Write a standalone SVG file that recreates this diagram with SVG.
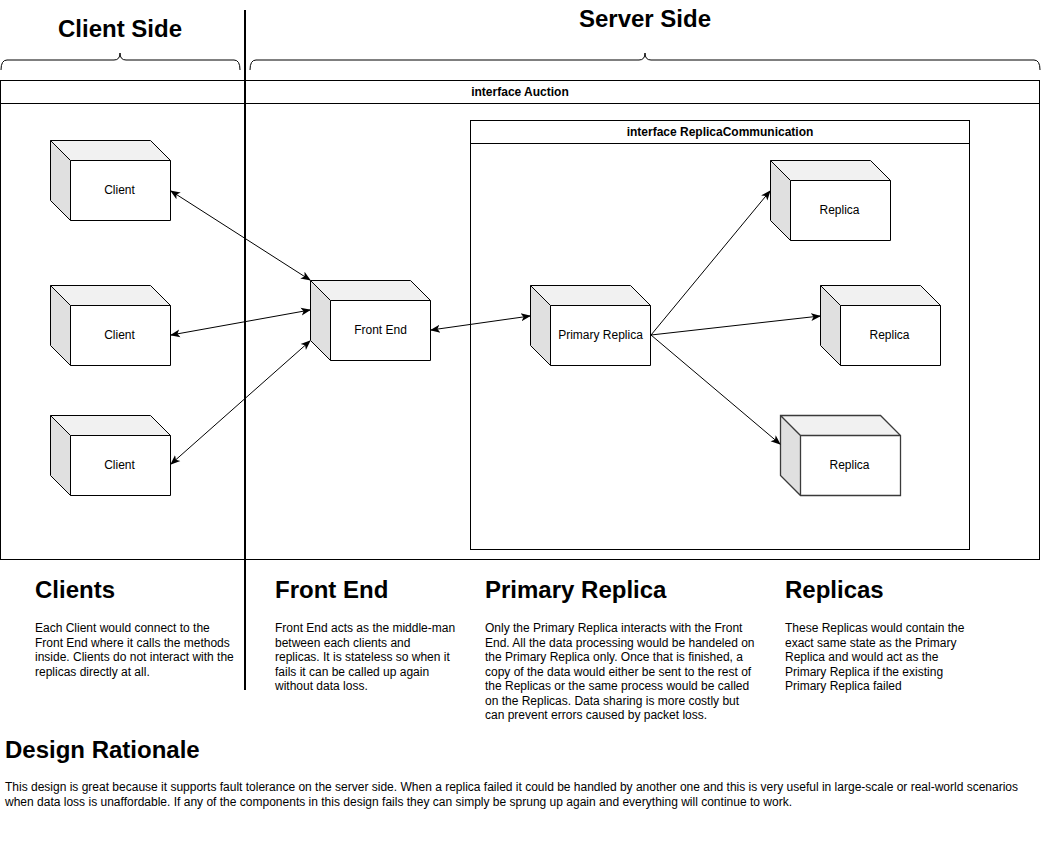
<svg xmlns="http://www.w3.org/2000/svg" width="1041" height="851" viewBox="0 0 1041 851">
<style>
text{font-family:"Liberation Sans",Arial,Helvetica,sans-serif;fill:#000}
.title{font-size:24px;font-weight:bold}
.hdr{font-size:12px;font-weight:bold}
.lbl{font-size:12px;text-anchor:middle}
.para{font-size:12px}
.frame{fill:none;stroke:#000;stroke-width:1}
.top{fill:#f1f1f1;stroke:none}
.side{fill:#e0e0e0;stroke:none}
.front{fill:#fff;stroke:none}
.edge{fill:none;stroke:#000;stroke-width:1;stroke-linejoin:miter}
.gray .edge{stroke:#3a3a3a;stroke-width:1.3}
.conn{fill:none;stroke:#000;stroke-width:1}
.brace{fill:none;stroke:#000;stroke-width:1}
</style>
<defs>
<marker id="arr" viewBox="0 0 10 10" refX="9" refY="5" markerWidth="10" markerHeight="10" markerUnits="userSpaceOnUse" orient="auto-start-reverse">
<path d="M0,1 L10,5 L0,9 L2.5,5 Z" fill="#000"/>
</marker>
</defs>
<rect width="1041" height="851" fill="#fff"/>

<g id="headings">
<text class="title" x="120" y="37" text-anchor="middle">Client Side</text>
<text class="title" x="645" y="27" text-anchor="middle">Server Side</text>
<path class="brace" d="M1,70 Q1,60 7,60 H114 Q120,60 120,53 Q120,60 126,60 H234 Q240,60 240,70"/>
<path class="brace" d="M250,70 Q250,60 256,60 H639 Q645,60 645,53 Q645,60 651,60 H1034 Q1040,60 1040,70"/>
</g>

<g id="auction">
<rect class="frame" x="0.5" y="80.5" width="1039" height="479"/>
<line class="frame" x1="0.5" y1="103.5" x2="1039.5" y2="103.5"/>
<text class="hdr" x="520" y="96" text-anchor="middle">interface Auction</text>
</g>

<g id="replica-communication">
<rect class="frame" x="470.5" y="120.5" width="499" height="429"/>
<line class="frame" x1="470.5" y1="143.5" x2="969.5" y2="143.5"/>
<text class="hdr" x="720" y="136" text-anchor="middle">interface ReplicaCommunication</text>
</g>

<line id="divider" x1="245" y1="10" x2="245" y2="690" stroke="#000" stroke-width="2"/>

<g id="client1" transform="translate(50.5,140.5)">
<polygon class="top" points="0,0 100,0 120,20 20,20"/>
<polygon class="side" points="0,0 20,20 20,80 0,60"/>
<rect class="front" x="20" y="20" width="100" height="60"/>
<path class="edge" d="M0,0 H100 L120,20 V80 H20 L0,60 Z M0,0 L20,20 H120 M20,20 V80"/>
<text class="lbl" x="69" y="53">Client</text>
</g>
<g id="client2" transform="translate(50.5,285.5)">
<polygon class="top" points="0,0 100,0 120,20 20,20"/>
<polygon class="side" points="0,0 20,20 20,80 0,60"/>
<rect class="front" x="20" y="20" width="100" height="60"/>
<path class="edge" d="M0,0 H100 L120,20 V80 H20 L0,60 Z M0,0 L20,20 H120 M20,20 V80"/>
<text class="lbl" x="69" y="53">Client</text>
</g>
<g id="client3" transform="translate(50.5,415.5)">
<polygon class="top" points="0,0 100,0 120,20 20,20"/>
<polygon class="side" points="0,0 20,20 20,80 0,60"/>
<rect class="front" x="20" y="20" width="100" height="60"/>
<path class="edge" d="M0,0 H100 L120,20 V80 H20 L0,60 Z M0,0 L20,20 H120 M20,20 V80"/>
<text class="lbl" x="69" y="53">Client</text>
</g>
<g id="front-end" transform="translate(310.5,280.5)">
<polygon class="top" points="0,0 100,0 120,20 20,20"/>
<polygon class="side" points="0,0 20,20 20,80 0,60"/>
<rect class="front" x="20" y="20" width="100" height="60"/>
<path class="edge" d="M0,0 H100 L120,20 V80 H20 L0,60 Z M0,0 L20,20 H120 M20,20 V80"/>
<text class="lbl" x="70" y="53">Front End</text>
</g>
<g id="primary-replica" transform="translate(530.5,285.5)">
<polygon class="top" points="0,0 100,0 120,20 20,20"/>
<polygon class="side" points="0,0 20,20 20,80 0,60"/>
<rect class="front" x="20" y="20" width="100" height="60"/>
<path class="edge" d="M0,0 H100 L120,20 V80 H20 L0,60 Z M0,0 L20,20 H120 M20,20 V80"/>
<text class="lbl" x="70" y="53">Primary Replica</text>
</g>
<g id="replica1" transform="translate(770.5,160.5)">
<polygon class="top" points="0,0 100,0 120,20 20,20"/>
<polygon class="side" points="0,0 20,20 20,80 0,60"/>
<rect class="front" x="20" y="20" width="100" height="60"/>
<path class="edge" d="M0,0 H100 L120,20 V80 H20 L0,60 Z M0,0 L20,20 H120 M20,20 V80"/>
<text class="lbl" x="69" y="53">Replica</text>
</g>
<g id="replica2" transform="translate(820.5,285.5)">
<polygon class="top" points="0,0 100,0 120,20 20,20"/>
<polygon class="side" points="0,0 20,20 20,80 0,60"/>
<rect class="front" x="20" y="20" width="100" height="60"/>
<path class="edge" d="M0,0 H100 L120,20 V80 H20 L0,60 Z M0,0 L20,20 H120 M20,20 V80"/>
<text class="lbl" x="69" y="53">Replica</text>
</g>
<g id="replica3" class="gray" transform="translate(780.5,415.5)">
<polygon class="top" points="0,0 100,0 120,20 20,20"/>
<polygon class="side" points="0,0 20,20 20,80 0,60"/>
<rect class="front" x="20" y="20" width="100" height="60"/>
<path class="edge" d="M0,0 H100 L120,20 V80 H20 L0,60 Z M0,0 L20,20 H120 M20,20 V80"/>
<text class="lbl" x="69" y="53">Replica</text>
</g>

<g id="connectors">
<line class="conn" x1="171" y1="191" x2="310" y2="280" marker-start="url(#arr)" marker-end="url(#arr)"/>
<line class="conn" x1="171" y1="335" x2="310" y2="310" marker-start="url(#arr)" marker-end="url(#arr)"/>
<line class="conn" x1="171" y1="464" x2="310" y2="341" marker-start="url(#arr)" marker-end="url(#arr)"/>
<line class="conn" x1="431" y1="330" x2="530" y2="316" marker-start="url(#arr)" marker-end="url(#arr)"/>
<line class="conn" x1="651" y1="335" x2="770" y2="191" marker-end="url(#arr)"/>
<line class="conn" x1="651" y1="335" x2="820" y2="316" marker-end="url(#arr)"/>
<line class="conn" x1="651" y1="335" x2="780" y2="444" marker-end="url(#arr)"/>
</g>

<g id="text-clients">
<text class="title" x="35" y="598">Clients</text>
<text class="para" x="35" y="632">Each Client would connect to the</text>
<text class="para" x="35" y="646.5">Front End where it calls the methods</text>
<text class="para" x="35" y="661">inside. Clients do not interact with the</text>
<text class="para" x="35" y="675.5">replicas directly at all.</text>
</g>
<g id="text-front-end">
<text class="title" x="275" y="598">Front End</text>
<text class="para" x="275" y="632">Front End acts as the middle-man</text>
<text class="para" x="275" y="646.5">between each clients and</text>
<text class="para" x="275" y="661">replicas. It is stateless so when it</text>
<text class="para" x="275" y="675.5">fails it can be called up again</text>
<text class="para" x="275" y="690">without data loss.</text>
</g>
<g id="text-primary">
<text class="title" x="485" y="598">Primary Replica</text>
<text class="para" x="485" y="632">Only the Primary Replica interacts with the Front</text>
<text class="para" x="485" y="646.5">End. All the data processing would be handeled on</text>
<text class="para" x="485" y="661">the Primary Replica only. Once that is finished, a</text>
<text class="para" x="485" y="675.5">copy of the data would either be sent to the rest of</text>
<text class="para" x="485" y="690">the Replicas or the same process would be called</text>
<text class="para" x="485" y="704.5">on the Replicas. Data sharing is more costly but</text>
<text class="para" x="485" y="719">can prevent errors caused by packet loss.</text>
</g>
<g id="text-replicas">
<text class="title" x="785" y="598">Replicas</text>
<text class="para" x="785" y="632">These Replicas would contain the</text>
<text class="para" x="785" y="646.5">exact same state as the Primary</text>
<text class="para" x="785" y="661">Replica and would act as the</text>
<text class="para" x="785" y="675.5">Primary Replica if the existing</text>
<text class="para" x="785" y="690">Primary Replica failed</text>
</g>
<g id="text-rationale">
<text class="title" x="5" y="758">Design Rationale</text>
<text class="para" x="5" y="791" textLength="1013" lengthAdjust="spacingAndGlyphs">This design is great because it supports fault tolerance on the server side. When a replica failed it could be handled by another one and this is very useful in large-scale or real-world scenarios</text>
<text class="para" x="5" y="805.5" textLength="787" lengthAdjust="spacingAndGlyphs">when data loss is unaffordable. If any of the components in this design fails they can simply be sprung up again and everything will continue to work.</text>
</g>
</svg>
